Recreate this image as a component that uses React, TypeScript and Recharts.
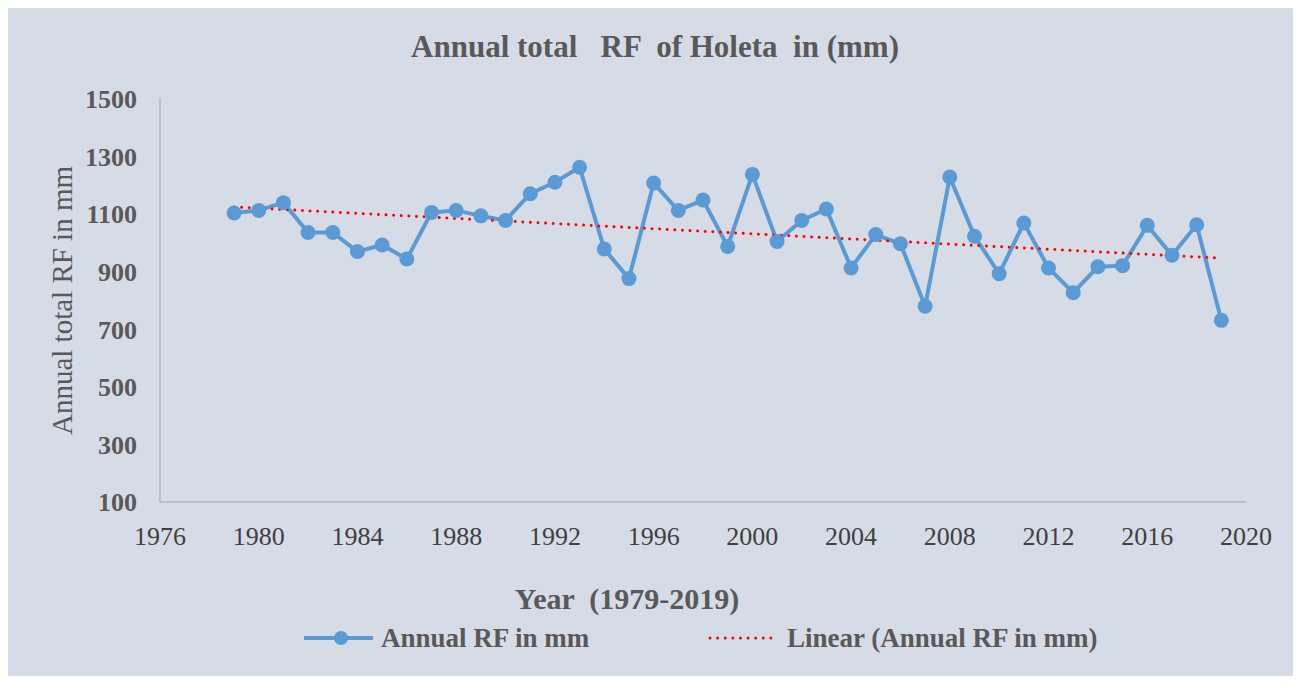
import { LineChart, Line, XAxis, YAxis, Legend } from 'recharts';

const years = [
  1979, 1980, 1981, 1982, 1983, 1984, 1985, 1986, 1987, 1988, 1989, 1990, 1991, 1992,
  1993, 1994, 1995, 1996, 1997, 1998, 1999, 2000, 2001, 2002, 2003, 2004, 2005, 2006,
  2007, 2008, 2009, 2010, 2011, 2012, 2013, 2014, 2015, 2016, 2017, 2018, 2019,
];

const annualRf = [
  1104, 1113, 1140, 1036, 1036, 970, 993, 944, 1106, 1113, 1094, 1078, 1171, 1211,
  1263, 979, 876, 1208, 1113, 1149, 988, 1238, 1005, 1078, 1118, 913, 1029, 997,
  780, 1229, 1023, 893, 1069, 913, 827, 917, 921, 1061, 957, 1063, 731,
];

// linear trend as drawn in the source: start (1979) and end (2019) values
const trendYears = [1979, 2019];
const trendValues = [1125, 947];

const xTicks = [1976, 1980, 1984, 1988, 1992, 1996, 2000, 2004, 2008, 2012, 2016, 2020];
const yTicks = [100, 300, 500, 700, 900, 1100, 1300, 1500];

const data = years.map((year, i) => {
  const t = trendYears.indexOf(year);
  return { year, rf: annualRf[i], trend: t >= 0 ? trendValues[t] : null };
});

const FONT = '"Liberation Serif", "Times New Roman", serif';
const TEXT = '#595959';
const BLUE = '#5b9bd5';
const W = 1286;
const H = 668;

function LegendContent() {
  return (
    <svg width={W} height={40} style={{ display: 'block' }}>
      <line x1={296} x2={365} y1={20} y2={20} stroke={BLUE} strokeWidth={4} />
      <circle cx={333} cy={20} r={7} fill={BLUE} />
      <text x={373} y={20} dy="0.35em" fontFamily={FONT} fontSize={27} fontWeight="bold" fill={TEXT}>
        Annual RF in mm
      </text>
      <line
        x1={702}
        x2={768}
        y1={20}
        y2={20}
        stroke="#ff0000"
        strokeWidth={3}
        strokeDasharray="0.01 7.6"
        strokeLinecap="round"
      />
      <text x={779} y={20} dy="0.35em" fontFamily={FONT} fontSize={27} fontWeight="bold" fill={TEXT}>
        Linear (Annual RF in mm)
      </text>
    </svg>
  );
}

export default function App() {
  return (
    <div
      style={{
        position: 'relative',
        width: W,
        height: H,
        background: '#d6dce5',
        outline: '1px solid #cfcfcf',
      }}
    >
      <div
        style={{
          position: 'absolute',
          top: 21,
          left: 0,
          width: 1294,
          textAlign: 'center',
          fontFamily: FONT,
          fontWeight: 'bold',
          fontSize: 31,
          color: TEXT,
          whiteSpace: 'pre',
          zIndex: 1,
        }}
      >
        {'Annual total   RF  of Holeta  in (mm)'}
      </div>
      <LineChart width={W} height={H} data={data} margin={{ top: 91, right: 48, bottom: 18, left: 0 }}>
        <XAxis
          type="number"
          dataKey="year"
          domain={[1976, 2020]}
          ticks={xTicks}
          interval={0}
          height={116}
          axisLine={{ stroke: '#bfbfbf', strokeWidth: 2 }}
          tickLine={false}
          tickSize={0}
          tickMargin={25}
          tick={{ fontFamily: FONT, fontSize: 26, fill: '#404040' }}
          label={{
            content: ({ viewBox }: any) => (
              <text
                x={619}
                y={viewBox.y + 96}
                dy="0.35em"
                textAnchor="middle"
                fontFamily={FONT}
                fontSize={30}
                fontWeight="bold"
                fill={TEXT}
                style={{ whiteSpace: 'pre' }}
              >
                {'Year  (1979-2019)'}
              </text>
            ),
          }}
        />
        <YAxis
          type="number"
          domain={[100, 1500]}
          ticks={yTicks}
          interval={0}
          width={152}
          axisLine={{ stroke: '#bfbfbf', strokeWidth: 2 }}
          tickLine={false}
          tickSize={0}
          tickMargin={23}
          tick={{ fontFamily: FONT, fontSize: 26, fontWeight: 'bold', fill: TEXT }}
          label={{
            content: ({ viewBox }: any) => {
              const cx = 54;
              const cy = viewBox.y + viewBox.height / 2;
              return (
                <text
                  x={cx}
                  y={cy}
                  dy="0.35em"
                  textAnchor="middle"
                  transform={`rotate(-90, ${cx}, ${cy})`}
                  fontFamily={FONT}
                  fontSize={29}
                  fill={TEXT}
                >
                  Annual total RF in mm
                </text>
              );
            },
          }}
        />
        <Legend verticalAlign="bottom" wrapperStyle={{ left: 0, width: W }} content={() => <LegendContent />} />
        <Line
          type="linear"
          dataKey="rf"
          name="Annual RF in mm"
          stroke={BLUE}
          strokeWidth={4}
          dot={{ r: 7.5, fill: BLUE, stroke: BLUE, strokeWidth: 0 }}
          isAnimationActive={false}
        />
        <Line
          type="linear"
          dataKey="trend"
          name="Linear (Annual RF in mm)"
          connectNulls
          stroke="#ff0000"
          strokeWidth={3}
          strokeDasharray="0.01 7.6"
          strokeLinecap="round"
          dot={false}
          activeDot={false}
          isAnimationActive={false}
        />
      </LineChart>
    </div>
  );
}
